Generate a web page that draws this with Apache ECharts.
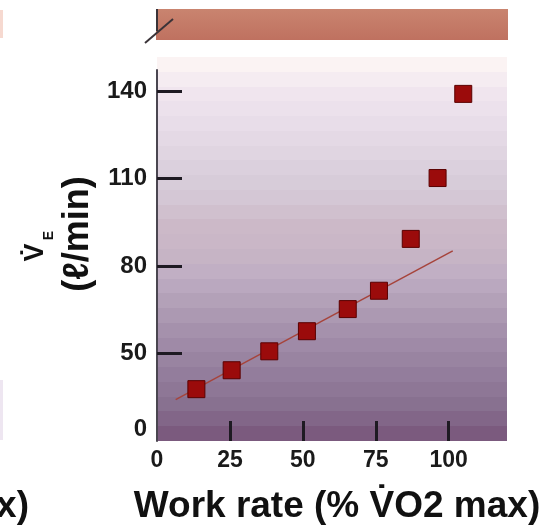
<!DOCTYPE html>
<html><head><meta charset="utf-8">
<script src="https://cdn.jsdelivr.net/npm/echarts@6/dist/echarts.min.js"></script>
<style>html,body{margin:0;padding:0;background:#fff}#c{width:551px;height:528px}</style>
</head><body><div id="c"></div>
<script>
// Data
const workRate = [13.5, 25.6, 38.5, 51.4, 65.4, 76.1, 87.0, 96.2, 105.0];
const ventilation = [37.7, 44.2, 50.7, 57.6, 65.2, 71.5, 89.3, 110.2, 139.1];
const fitX = [6.4, 101.4];
const fitY = [34.1, 85.2];
const xTickLabels = [0, 25, 50, 75, 100];
const xTickMarks = [25, 50, 75, 100];
const yTickLabels = [0, 50, 80, 110, 140];
const yTickMarks = [50, 80, 110, 140];

const FONT = '"Liberation Sans", Arial, Helvetica, sans-serif';
const bandKeys = ['#fbf3f3','#f1e6ef','#e9dfea','#e3d8e4','#dacfdc','#d4c8d6','#cdbac8','#c9b6c6','#bfaec4','#b3a0b8','#a692ad','#9b86a3','#917a9a','#87708f','#7b5a7e'];
function hex(c){return [1,3,5].map(i=>parseInt(c.substr(i,2),16));}
function bandStops(n){
  const stops=[];
  for(let i=0;i<n;i++){
    const t=i/(n-1)*(bandKeys.length-1);
    const k=Math.min(Math.floor(t),bandKeys.length-2), f=t-k;
    const a=hex(bandKeys[k]), b=hex(bandKeys[k+1]);
    const c='rgb('+a.map((v,j)=>Math.round(v+(b[j]-v)*f)).join(',')+')';
    stops.push({offset:i/n,color:c},{offset:(i+1)/n-0.0001,color:c});
  }
  return stops;
}

const chart = echarts.init(document.getElementById('c'), null, {renderer:'canvas'});
const option = {
  animation:false,
  backgroundColor:'#ffffff',
  grid:{left:157,right:44,top:70,bottom:87},
  xAxis:{
    type:'value',min:0,max:120,
    axisLine:{show:false,onZero:false},
    splitLine:{show:false},
    axisTick:{show:true,inside:true,length:20,customValues:xTickMarks,lineStyle:{color:'#1e1a22',width:3}},
    axisLabel:{customValues:xTickLabels,margin:8,color:'#1a1a1a',fontSize:23,fontWeight:'bold',fontFamily:FONT}
  },
  yAxis:{
    type:'value',min:-4,max:147.3,
    breaks:[{start:3,end:26.9,gap:0}],
    breakArea:{show:false},
    axisLine:{show:true,onZero:false,lineStyle:{color:'#4a4650',width:2}},
    splitLine:{show:false},
    axisTick:{show:true,inside:true,length:25,customValues:yTickMarks,lineStyle:{color:'#1e1a22',width:3}},
    axisLabel:{customValues:yTickLabels,margin:10,color:'#1a1a1a',fontSize:24,fontWeight:'bold',fontFamily:FONT}
  },
  series:[
    {type:'line',data:fitX.map((x,i)=>[x,fitY[i]]),showSymbol:false,symbol:'none',
     lineStyle:{color:'#a6443c',width:1.5},z:2},
    {type:'scatter',data:workRate.map((x,i)=>[x,ventilation[i]]),symbol:'rect',symbolSize:17,
     itemStyle:{color:'#9b0b0b',borderColor:'#5a0000',borderWidth:1,opacity:1},z:3}
  ]
};
chart.setOption(option);

const pL = chart.convertToPixel({xAxisIndex:0},0);
const pR = chart.convertToPixel({xAxisIndex:0},120);
const pB = chart.convertToPixel({yAxisIndex:0},-4);
const pT = chart.convertToPixel({yAxisIndex:0},147.3);
const bgTop = pT - 13;

chart.setOption({graphic:[
  {type:'rect',z:-10,silent:true,shape:{x:pL,y:bgTop,width:pR-pL,height:pB-bgTop},
   style:{fill:new echarts.graphic.LinearGradient(0,0,0,1,bandStops(26))}},
  {type:'rect',z:-10,silent:true,shape:{x:pL-1,y:9,width:pR-pL+2,height:31},
   style:{fill:new echarts.graphic.LinearGradient(0,0,0,1,[{offset:0,color:'#c9846f'},{offset:1,color:'#bf7160'}])}},
  {type:'line',silent:true,shape:{x1:pL,y1:9,x2:pL,y2:31},style:{stroke:'#3a3338',lineWidth:2}},
  {type:'line',silent:true,shape:{x1:145,y1:43,x2:173,y2:19},style:{stroke:'#3a3338',lineWidth:2}},
  {type:'rect',silent:true,shape:{x:0,y:10,width:3,height:28},style:{fill:'#f6d9d0'}},
  {type:'rect',silent:true,shape:{x:0,y:380,width:3,height:60},style:{fill:'#eee6f1'}},
  {type:'text',silent:true,x:337,y:506.5,style:{text:'Work rate (% V\u0307O2 max)',font:'bold 37px '+FONT,fill:'#111',textAlign:'center',align:'center',textVerticalAlign:'middle',verticalAlign:'middle'}},
  {type:'text',silent:true,x:29,y:506.5,style:{text:'max)',font:'bold 37px '+FONT,fill:'#111',textAlign:'right',align:'right',textVerticalAlign:'middle',verticalAlign:'middle'}},
  {type:'text',silent:true,x:36,y:252.5,rotation:Math.PI/2,style:{text:'V\u0307',font:'bold 27px '+FONT,fill:'#111',textAlign:'center',align:'center',textVerticalAlign:'middle',verticalAlign:'middle'}},
  {type:'text',silent:true,x:49,y:235.5,rotation:Math.PI/2,style:{text:'E',font:'bold 14px '+FONT,fill:'#111',textAlign:'center',align:'center',textVerticalAlign:'middle',verticalAlign:'middle'}},
  {type:'text',silent:true,x:78,y:234,rotation:Math.PI/2,style:{text:'(\u2113/min)',font:'bold 36px '+FONT,fill:'#111',textAlign:'center',align:'center',textVerticalAlign:'middle',verticalAlign:'middle'}}
]});
</script></body></html>
